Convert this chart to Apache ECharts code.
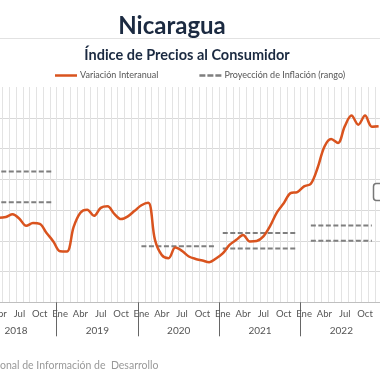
<!DOCTYPE html>
<html><head><meta charset="utf-8">
<script src="https://cdn.jsdelivr.net/npm/echarts@6/dist/echarts.min.js"></script>
<style>html,body{margin:0;padding:0;background:#fff;overflow:hidden;width:380px;height:380px;position:relative}
#c{position:absolute;left:-32px;top:0;width:414px;height:380px}</style>
</head><body><div id="c"></div>
<script>
const years = ['2018','2019','2020','2021','2022'];
const monthNames = ['Ene','Feb','Mar','Abr','May','Jun','Jul','Ago','Sep','Oct','Nov','Dic'];
// Variación interanual (%), Jan 2018 .. Dec 2022
const infl2018 = [5.7,5.6,5.5,5.5,5.55,5.72,5.43,4.97,5.15,5.1,4.51,3.96];
const infl2019 = [3.32,3.3,4.9,5.82,6.01,5.62,6.14,6.24,5.75,5.41,5.59,5.95];
const infl2020 = [6.31,6.47,4.06,3.08,2.87,3.56,3.34,2.98,2.82,2.72,2.61,2.85];
const infl2021 = [3.18,3.73,4.06,4.38,3.96,3.99,4.29,4.97,5.85,6.44,7.1,7.17];
const infl2022 = [7.54,7.71,8.75,10.12,10.62,10.36,11.44,12.14,11.55,12.14,11.42,11.45];
// Proyección de inflación (rango)
const proj2018 = [6.5, 8.5];
const proj2020 = [3.65];
const proj2021 = [3.5, 4.5];
const proj2022 = [4.0, 5.0];
const projSpans = {'2018':[0,11],'2020':[0,11],'2021':[0,11],'2022':[1,10]};

const months = [];
years.forEach(y => monthNames.forEach(m => months.push(m)));
const infl = [].concat(infl2018, infl2019, infl2020, infl2021, infl2022);
const projName = 'Proyección de Inflación (rango)';
function projSeries(year, vals) {
  const yi = years.indexOf(year);
  const [a, b] = projSpans[year];
  return vals.map(v => {
    const d = months.map(() => null);
    for (let m = a; m <= b; m++) d[yi * 12 + m] = v;
    return {
      name: projName, type: 'line', data: d, symbol: 'none', connectNulls: false,
      lineStyle: {color: '#7f7f7f', width: 2, type: [5, 2.5]}, itemStyle: {color: '#7f7f7f'}, z: 3
    };
  });
}
const series = [
  {name: 'Variación Interanual', type: 'line', data: infl, smooth: 0.35, symbol: 'none',
   lineStyle: {color: '#d9531e', width: 2.5}, itemStyle: {color: '#d9531e'}, z: 5},
  ...projSeries('2018', proj2018), ...projSeries('2020', proj2020),
  ...projSeries('2021', proj2021), ...projSeries('2022', proj2022)
];
const chart = echarts.init(document.getElementById('c'), null, {renderer: 'canvas'});
const font = 'Lato';
const X = 32; // container offset
chart.setOption({
  animation: false,
  backgroundColor: '#fff',
  title: [
    {text: 'Nicaragua', left: 167 + X, top: 9, textAlign: 'center',
     textStyle: {fontFamily: font, fontWeight: 'bold', fontSize: 24, color: '#1b2a41'}},
    {text: 'Índice de Precios al Consumidor', left: 182 + X, top: 43, textAlign: 'center',
     textStyle: {fontFamily: font, fontWeight: 'bold', fontSize: 14.5, color: '#1b2a41'}}
  ],
  legend: {left: 55 + X, top: 71, padding: 0, itemWidth: 22, itemHeight: 2.5, itemGap: 41,
    data: [
      {name: 'Variación Interanual', icon: 'path://M0,0h22v2.5h-22z', itemStyle: {color: '#d9531e'}},
      {name: projName, icon: 'path://M0,0h6v2.5h-6z M8,0h6v2.5h-6z M16,0h6v2.5h-6z', itemStyle: {color: '#7f7f7f'}}
    ],
    textStyle: {fontFamily: font, fontSize: 9, color: '#555', padding: [0, 0, 0, -2]}},
  grid: {left: 0, right: 0, top: 87, bottom: 77.7, containLabel: false},
  xAxis: [
    {type: 'category', data: months, boundaryGap: true, position: 'bottom',
     axisLine: {lineStyle: {color: '#bfbfbf', width: 1}}, axisTick: {show: false},
     axisLabel: {interval: 2, margin: 7, fontFamily: font, fontSize: 9.5, color: '#555'},
     splitLine: {show: true, interval: 0, lineStyle: {color: '#e3e3e3', width: 1}}},
    {type: 'category', data: years, boundaryGap: true, position: 'bottom',
     axisLine: {show: false},
     axisTick: {show: true, length: 34, lineStyle: {color: '#666', width: 1}},
     axisLabel: {margin: 23, fontFamily: font, fontSize: 10, color: '#555'},
     splitLine: {show: false}}
  ],
  yAxis: {type: 'value', min: 0, max: 14, interval: 2,
    axisLabel: {show: false}, axisLine: {show: false}, axisTick: {show: false},
    splitLine: {show: true, showMaxLine: false, lineStyle: {color: '#d9d9d9', width: 1}}},
  graphic: [
    {type: 'line', shape: {x1: X, y1: 38.5, x2: 380 + X, y2: 38.5}, style: {stroke: '#e2e2e2', lineWidth: 1}},
    {type: 'rect', shape: {x: 373.5 + X, y: 183.5, width: 20, height: 17, r: 3},
     style: {fill: '#fff', stroke: '#777', lineWidth: 1.5}, z: 10},
    {type: 'text', left: X, top: 360,
     style: {text: 'onal de Información de  Desarrollo', fontFamily: font, fontSize: 10.5, fill: '#999'}}
  ],
  series: series
});
</script></body></html>
